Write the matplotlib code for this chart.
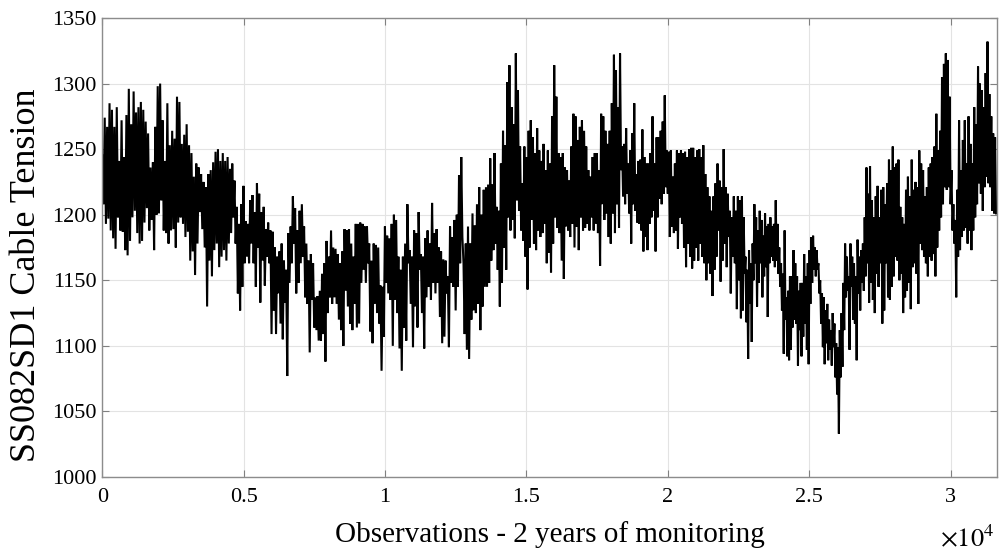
import numpy as np
import matplotlib
matplotlib.use("Agg")
import matplotlib.pyplot as plt

# Observation boundaries of the seven read segments (observations)
seg_bounds = [0, 4516, 9042, 13568, 18094, 22620, 27150, 31640]

# Local peaks / troughs, segment by segment
peaks_1 = [1245,1274,1267,1285,1280,1267,1282,1241,1272,1244,1276,1296,1269,1294,1278,1282,1286,1280,
           1271,1262,1236,1240,1267,1298,1300,1272,1241,1285,1253,1264,1258,1290,1286,1254,1261,1269,
           1253,1247,1229,1239,1236,1231,1225,1221,1231,1234,1240,1248,1250,1241,1247,1241,1244]
troughs_1 = [1208,1193,1197,1188,1182,1174,1198,1188,1187,1173,1169,1180,1198,1203,1186,1178,1180,1194,
             1205,1188,1196,1173,1200,1201,1211,1188,1186,1178,1188,1189,1175,1194,1198,1193,1183,1187,
             1165,1172,1154,1178,1202,1189,1175,1130,1165,1153,1173,1178,1160,1168,1173,1165,1178]

peaks_2 = [1235,1239,1226,1206,1193,1208,1222,1195,1193,1211,1215,1202,1224,1216,1202,1206,1189,1194,
           1188,1187,1175,1168,1172,1178,1165,1158,1186,1191,1214,1205,1188,1203,1208,1191,1178,1165,
           1170,1163,1137,1138,1142,1155,1163,1180,1168,1188,1175,1174,1170,1163,1172,1189,1188,1189,
           1178,1168,1193]
troughs_2 = [1186,1198,1178,1140,1127,1145,1163,1168,1163,1178,1163,1145,1175,1133,1165,1146,1168,1163,
             1109,1127,1109,1140,1117,1105,1133,1077,1148,1163,1178,1140,1148,1163,1168,1137,1132,1095,
             1135,1114,1112,1104,1104,1109,1088,1125,1137,1132,1137,1132,1120,1112,1100,1142,1130,1117,
             1112,1132,1114]

peaks_3 = [1193,1194,1193,1191,1191,1178,1165,1178,1177,1175,1146,1145,1191,1184,1182,1193,1200,1196,
           1168,1158,1168,1178,1208,1173,1168,1188,1186,1202,1170,1168,1182,1188,1178,1209,1186,1189,
           1175,1172,1166,1165,1153,1191,1183,1196,1200,1230,1244,1163,1178,1191,1178,1201,1192,1208,
           1221,1200,1219]
troughs_3 = [1117,1148,1158,1148,1163,1111,1102,1132,1125,1117,1081,1107,1148,1140,1135,1100,1135,1125,
             1098,1081,1114,1104,1163,1132,1099,1130,1114,1158,1125,1098,1137,1145,1135,1148,1140,1148,
             1122,1102,1107,1140,1099,1148,1145,1127,1145,1163,1183,1109,1097,1090,1120,1127,1125,1132,
             1112,1130,1145]

peaks_4 = [1221,1223,1243,1223,1247,1206,1203,1239,1264,1253,1301,1314,1282,1269,1323,1295,1252,1224,
           1252,1244,1264,1272,1259,1247,1266,1249,1241,1254,1234,1249,1239,1275,1314,1290,1247,1244,
           1247,1236,1234,1226,1252,1277,1275,1257,1267,1272,1264,1252,1234,1229,1244,1247,1247,1234,
           1277,1275,1264,1254,1264,1285]
troughs_4 = [1145,1148,1165,1173,1178,1158,1130,1148,1175,1158,1198,1188,1196,1182,1211,1203,1188,1180,
             1168,1143,1175,1196,1178,1173,1188,1183,1186,1193,1163,1171,1156,1178,1198,1190,1186,1165,
             1151,1191,1188,1183,1193,1175,1191,1173,1198,1188,1190,1193,1188,1198,1188,1193,1186,1161,
             1208,1196,1201,1183,1178,1201]

peaks_5 = [1322,1310,1282,1323,1252,1254,1266,1239,1249,1262,1285,1231,1241,1242,1265,1244,1239,1239,
           1247,1275,1239,1259,1259,1264,1271,1291,1249,1248,1249,1229,1239,1249,1247,1249,1247,1248,
           1244,1250,1251,1251,1244,1249,1250,1244,1253,1231,1221,1214,1203,1214,1224,1239,1226,1221,
           1250,1221,1216,1203,1198,1214,1203,1214,1211]
troughs_5 = [1186,1208,1190,1234,1214,1208,1216,1201,1178,1208,1203,1194,1193,1188,1172,1183,1173,1193,
             1198,1203,1172,1198,1212,1208,1216,1221,1216,1183,1191,1186,1188,1174,1198,1193,1175,1160,
             1178,1168,1159,1165,1175,1165,1178,1168,1163,1150,1163,1155,1138,1158,1168,1188,1149,1165,
             1178,1160,1183,1140,1168,1163,1128,1150,1121]

peaks_6 = [1214,1198,1168,1158,1173,1163,1178,1208,1198,1188,1203,1196,1184,1201,1191,1193,1198,1191,
           1193,1211,1193,1175,1163,1155,1188,1137,1142,1153,1153,1173,1163,1153,1142,1148,1148,1170,
           1153,1163,1173,1183,1184,1175,1173,1163,1150,1140,1137,1127,1132,1120,1112,1125,1117,1102,
           1099,1112,1125,1148,1178,1168,1153,1178,1168,1163,1153,1181,1168,1173,1178,1198,1236,1216]
troughs_6 = [1127,1155,1118,1090,1132,1103,1150,1163,1130,1148,1163,1137,1153,1160,1122,1163,1168,1165,
             1160,1165,1155,1145,1127,1094,1120,1092,1089,1097,1114,1120,1117,1085,1112,1092,1107,1117,
             1097,1086,1132,1148,1158,1153,1158,1140,1117,1099,1086,1102,1089,1097,1085,1099,1076,1063,
             1033,1076,1084,1112,1137,1142,1097,1145,1120,1117,1089,1140,1127,1148,1142,1153,1163,1133]

peaks_7 = [1237,1211,1198,1214,1222,1198,1219,1221,1208,1224,1242,1234,1252,1236,1239,1242,1206,1198,
           1193,1219,1229,1214,1242,1219,1225,1221,1249,1239,1234,1214,1221,1236,1239,1244,1252,1277,
           1249,1264,1305,1315,1323,1318,1290,1234,1208,1196,1219,1272,1234,1257,1272,1239,1275,1254,
           1239,1282,1269,1313,1300,1295,1282,1308,1332,1292,1275,1262,1259]
troughs_7 = [1148,1135,1125,1155,1145,1163,1117,1127,1163,1137,1135,1145,1153,1168,1165,1150,1155,1125,
             1137,1142,1148,1128,1160,1163,1155,1132,1178,1173,1168,1163,1153,1168,1165,1170,1153,1175,
             1188,1198,1208,1221,1219,1221,1208,1188,1178,1137,1168,1173,1183,1188,1190,1178,1188,1173,
             1188,1198,1208,1224,1216,1203,1221,1229,1224,1221,1203,1201,1201]

peaks = [peaks_1, peaks_2, peaks_3, peaks_4, peaks_5, peaks_6, peaks_7]
troughs = [troughs_1, troughs_2, troughs_3, troughs_4, troughs_5, troughs_6, troughs_7]

x_ticks = [0, 5000, 10000, 15000, 20000, 25000, 30000]
x_ticklabels = ["0", "0.5", "1", "1.5", "2", "2.5", "3"]
y_ticks = [1000, 1050, 1100, 1150, 1200, 1250, 1300, 1350]

# Build the series by interleaving the read peaks and troughs in each segment
xs, ys = [], []
for k in range(len(peaks)):
    a, b = seg_bounds[k], seg_bounds[k + 1]
    n = len(peaks[k])
    step = (b - a) / n
    for i in range(n):
        xs.append(a + i * step)
        ys.append(peaks[k][i])
        xs.append(a + (i + 0.5) * step)
        ys.append(troughs[k][i])

plt.rcParams["font.family"] = ["Liberation Serif", "DejaVu Serif"]
plt.rcParams["mathtext.fontset"] = "stix"

fig = plt.figure(figsize=(10.03, 5.54), dpi=100)
ax = fig.add_axes([0.102, 0.139, 0.892, 0.8285])

ax.plot(xs, ys, color="black", linewidth=1.5, solid_joinstyle="miter")

ax.set_xlim(0, 31640)
ax.set_ylim(1000, 1350)
ax.set_xticks(x_ticks)
ax.set_xticklabels(x_ticklabels)
ax.set_yticks(y_ticks)
ax.grid(True, color="#e3e3e3", linewidth=0.8)
ax.set_axisbelow(True)
ax.tick_params(direction="in", length=5, width=0.8, color="#808080", labelsize=16,
               top=True, right=True)
ax.tick_params(axis="x", pad=8)
ax.tick_params(axis="y", pad=4)
for s in ax.spines.values():
    s.set_color("#8c8c8c")
    s.set_linewidth(1.0)

ax.set_xlabel("Observations - 2 years of monitoring", fontsize=21)
ax.xaxis.set_label_coords(0.5, -0.095)
ax.xaxis.label.set_va("top")
ax.set_ylabel("SS082SD1 Cable Tension", fontsize=26)
ax.yaxis.set_label_coords(-0.066, 0.44)
fig.text(0.937, 0.014, r"$\times10^{4}$", fontsize=19, ha="left", va="baseline")

fig.savefig("out.png", dpi=100)
